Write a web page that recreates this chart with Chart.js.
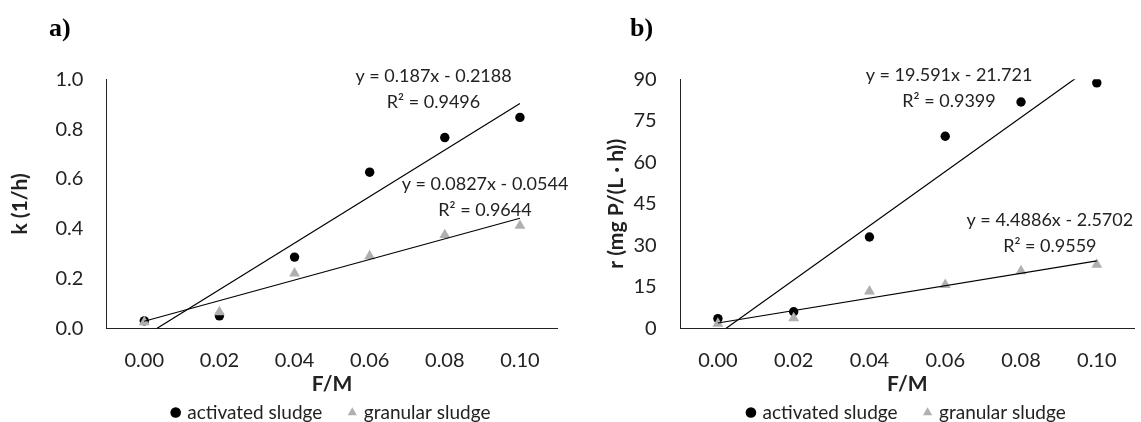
<!DOCTYPE html>
<html><head><meta charset="utf-8">
<script src="https://cdn.jsdelivr.net/npm/chart.js@4/dist/chart.umd.min.js"></script>
<style>
html,body{margin:0;padding:0;background:#fff;}
#wrap{position:relative;width:1141px;height:422px;overflow:hidden;background:#fff;}
.panel{position:absolute;top:0;height:422px;}
#pa{left:0;width:570px;} #pb{left:570px;width:571px;}
.tag{position:absolute;top:15px;font:bold 26px/26px "Liberation Serif",serif;color:#000;}
</style></head><body>
<div id="wrap">
<div class="panel" id="pa"><canvas id="ca" width="570" height="422"></canvas></div>
<div class="panel" id="pb"><canvas id="cb" width="571" height="422"></canvas></div>
<div class="tag" style="left:49px">a)</div>
<div class="tag" style="left:630px">b)</div>
</div>
<script>
// ---- data ----
const categories = [0.00, 0.02, 0.04, 0.06, 0.08, 0.10];
const xTickLabels = ['0.00', '0.02', '0.04', '0.06', '0.08', '0.10'];
const kActivated = [0.03, 0.05, 0.286, 0.627, 0.766, 0.847];
const kGranular = [0.025, 0.065, 0.221, 0.29, 0.375, 0.412];
const rActivated = [3.5, 6.0, 33.0, 69.4, 81.8, 88.7];
const rGranular = [1.7, 3.7, 13.4, 15.7, 20.7, 23.0];
const kTicks = [0, 0.2, 0.4, 0.6, 0.8, 1.0];
const rTicks = [0, 15, 30, 45, 60, 75, 90];
// Excel trend lines (x = category index 1..6): slope, intercept, R²
const kActFit = [0.187, -0.2188, 0.9496];
const kGranFit = [0.0827, -0.0544, 0.9644];
const rActFit = [19.591, -21.721, 0.9399];
const rGranFit = [4.4886, -2.5702, 0.9559];

Chart.defaults.font.family = 'Lato';
Chart.defaults.color = '#222';

function trendData(fit) {
  const n = categories.length;
  return [{x: categories[0], y: fit[0] * 1 + fit[1]}, {x: categories[n - 1], y: fit[0] * n + fit[1]}];
}
function eqLines(fit) {
  return ['y = ' + fit[0] + 'x - ' + Math.abs(fit[1]), 'R\u00B2 = ' + fit[2].toFixed(4)];
}

const eqPlugin = {
  id: 'eqLabels',
  afterDatasetsDraw(chart, args, opts) {
    const {ctx, scales: {x, y}} = chart;
    ctx.save();
    ctx.font = '18px Lato';
    ctx.fillStyle = '#222';
    ctx.textAlign = 'center';
    ctx.textBaseline = 'middle';
    opts.items.forEach(it => {
      const px = x.getPixelForValue(it.x), py = y.getPixelForValue(it.y);
      it.lines.forEach((t, i) => ctx.fillText(t, px, py + i * 26));
    });
    ctx.restore();
  }
};

function makeChart(id, c) {
  return new Chart(document.getElementById(id), {
    type: 'scatter',
    plugins: [eqPlugin],
    data: {
      datasets: [
        {label: 'activated sludge', data: categories.map((v, i) => ({x: v, y: c.act[i]})),
         pointStyle: 'circle', pointRadius: 4.7, pointHoverRadius: 4.7, backgroundColor: '#000', borderColor: '#000', borderWidth: 0, order: 3},
        {label: 'granular sludge', data: categories.map((v, i) => ({x: v, y: c.gran[i]})),
         pointStyle: 'triangle', pointRadius: 6.3, pointHoverRadius: 6.3, backgroundColor: '#b0b0b0', borderColor: '#b0b0b0', borderWidth: 0, order: 2},
        {type: 'line', data: trendData(c.actFit), borderColor: '#000', borderWidth: 1.2, pointRadius: 0, fill: false, order: 1},
        {type: 'line', data: trendData(c.granFit), borderColor: '#000', borderWidth: 1.2, pointRadius: 0, fill: false, order: 1}
      ]
    },
    options: {
      responsive: false,
      animation: false,
      layout: {padding: {left: 0, right: c.padRight, top: 79.3, bottom: 0}},
      plugins: {
        tooltip: {enabled: false},
        legend: {
          position: 'bottom',
          fullSize: false,
          maxHeight: 47,
          labels: {
            usePointStyle: true, boxWidth: 4, boxHeight: 7.5, padding: 28,
            font: {size: 19, family: 'Lato'}, color: '#222',
            filter: item => !!item.text,
            sort: (a, b) => a.datasetIndex - b.datasetIndex
          }
        },
        eqLabels: {items: c.eq}
      },
      scales: {
        x: {
          type: 'linear', min: -0.01, max: 0.11,
          afterBuildTicks: s => { s.ticks = categories.map(v => ({value: v})); },
          afterFit: s => { s.height = 46.7; },
          ticks: {callback: (v, i) => xTickLabels[i], font: {size: 20}, color: '#222', padding: 20, maxRotation: 0, autoSkip: false},
          grid: {display: false, drawTicks: false},
          border: {display: true, color: '#222', width: 1},
          title: {display: true, text: 'F/M', font: {size: 21, weight: 'bold'}, color: '#222', padding: {top: 0, bottom: -22}}
        },
        y: {
          min: c.ticks[0], max: c.ticks[c.ticks.length - 1],
          afterBuildTicks: s => { s.ticks = c.ticks.map(v => ({value: v})); },
          afterFit: s => { s.width = c.yWidth; },
          ticks: {callback: v => c.fmt(v), font: {size: 20}, color: '#222', padding: 23.4},
          grid: {display: false, drawTicks: false},
          border: {display: true, color: '#222', width: 1},
          title: {display: true, text: c.yTitle, font: {size: 21, weight: 'bold'}, color: '#222', padding: {top: c.yTitlePad, bottom: 0}}
        }
      }
    }
  });
}

makeChart('ca', {
  act: kActivated, gran: kGranular, actFit: kActFit, granFit: kGranFit, ticks: kTicks,
  fmt: v => v.toFixed(1), yTitle: 'k (1/h)', yTitlePad: 7.4, yWidth: 106.7, padRight: 12.5,
  eq: [{x: 0.077, y: 1.013, lines: eqLines(kActFit)}, {x: 0.0907, y: 0.5795, lines: eqLines(kGranFit)}]
});
makeChart('cb', {
  act: rActivated, gran: rGranular, actFit: rActFit, granFit: rGranFit, ticks: rTicks,
  fmt: v => String(v), yTitle: 'r (mg P/(L \u00B7 h))', yTitlePad: 33.4, yWidth: 110, padRight: 0,
  eq: [{x: 0.0610, y: 91.55, lines: eqLines(rActFit)}, {x: 0.0876, y: 39.14, lines: eqLines(rGranFit)}]
});
</script>
</body></html>
